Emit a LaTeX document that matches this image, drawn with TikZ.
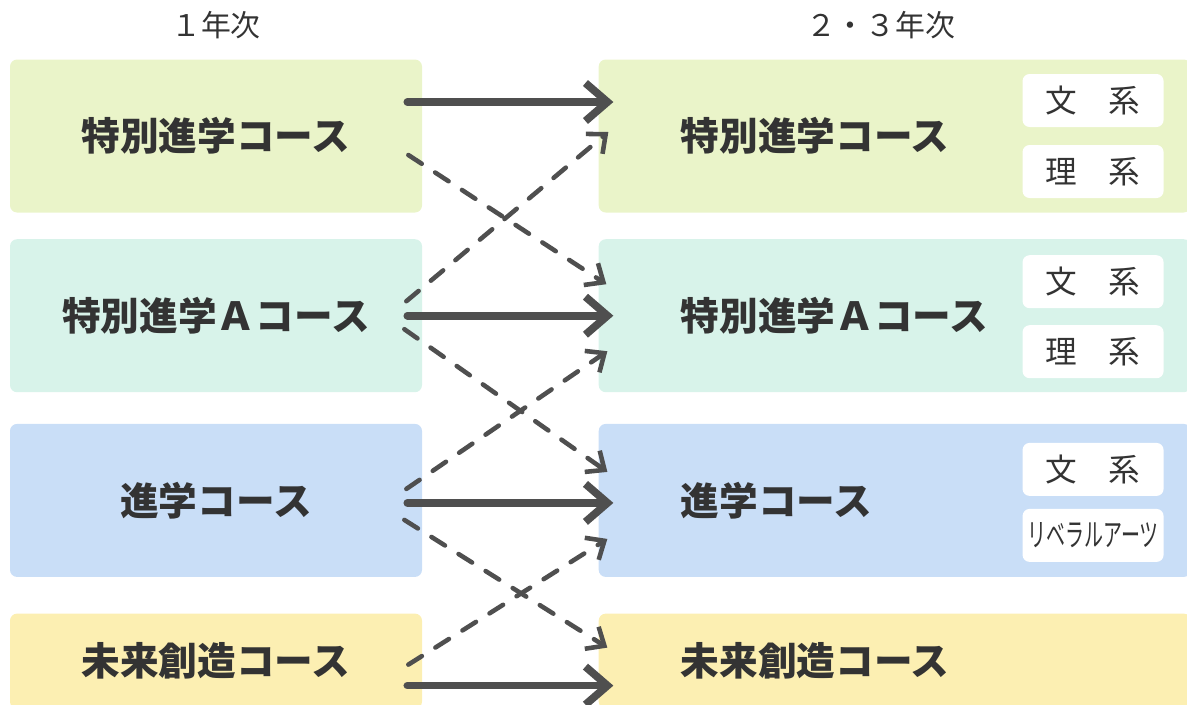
\documentclass[tikz,border=0pt]{standalone}
\usepackage{fontspec}
\setmainfont{Noto Sans CJK JP}
\usetikzlibrary{arrows.meta,positioning}

\definecolor{rowA}{HTML}{EAF4C9}
\definecolor{rowB}{HTML}{D8F3EA}
\definecolor{rowC}{HTML}{C9DEF7}
\definecolor{rowD}{HTML}{FCEFB2}
\definecolor{arr}{HTML}{4F4F4F}
\definecolor{txt}{HTML}{333333}

\begin{document}
\begin{tikzpicture}[
    box/.style={
        rectangle,
        rounded corners=4pt,
        minimum width=8.24cm,
        minimum height=3.06cm,
        inner sep=0pt,
        align=center,
        text=txt,
        font=\bfseries\fontsize{22}{26}\selectfont
    },
    wide/.style={minimum width=11.84cm, text width=8.56cm, inner xsep=1.64cm, align=left},
    tokA/.style={box, fill=rowA},
    tokB/.style={box, fill=rowB},
    tokC/.style={box, fill=rowC},
    tokD/.style={box, fill=rowD, minimum height=1.9cm},
    head/.style={text=txt, font=\fontsize{17}{20}\selectfont},
    sub/.style={
        rectangle, fill=white, rounded corners=4pt,
        minimum width=2.82cm, minimum height=1.06cm,
        inner sep=0pt, text=txt, font=\fontsize{18}{21}\selectfont
    },
    main/.style={-{Straight Barb[length=0.44cm,width=0.76cm]}, draw=arr, line width=4.4pt, line cap=round},
    cross/.style={-{Straight Barb[length=0.3cm,width=0.52cm]}, draw=arr, line width=2.6pt, line cap=round,
        dash pattern=on 0.32cm off 0.32cm}
]
    \clip (0,0) rectangle (23.74,-14.08);

    % --- 1st YEAR (LEFT) ---
    \node[tokA] (l1) at (4.32,-2.72) {特別進学コース};
    \node[tokB, below=0.52cm of l1] (l2) {特別進学Ａコース};
    \node[tokC, below=0.62cm of l2] (l3) {進学コース};
    \node[tokD, below=0.72cm of l3] (l4) {未来創造コース};

    % --- 2nd/3rd YEAR (RIGHT) ---
    \node[tokA, wide, right=3.52cm of l1] (r1) {特別進学コース};
    \node[tokB, wide, right=3.52cm of l2] (r2) {特別進学Ａコース};
    \node[tokC, wide, right=3.52cm of l3] (r3) {進学コース};
    \node[tokD, wide, right=3.52cm of l4] (r4) {未来創造コース};

    % --- HEADINGS ---
    \node[head, above=0.28cm of l1] (h1) {１年次};
    \node[head, above=0.28cm of r1, xshift=-0.28cm] (h2) {２・３年次};

    % --- SUB TRACKS ---
    \node[sub] (r1a) at ([xshift=-1.96cm, yshift=0.71cm]r1.east) {文　系};
    \node[sub] (r1b) at ([xshift=-1.96cm, yshift=-0.71cm]r1.east) {理　系};
    \node[sub] (r2a) at ([xshift=-1.96cm, yshift=0.68cm]r2.east) {文　系};
    \node[sub] (r2b) at ([xshift=-1.96cm, yshift=-0.72cm]r2.east) {理　系};
    \node[sub] (r3a) at ([xshift=-1.96cm, yshift=0.62cm]r3.east) {文　系};
    \node[sub] (r3b) at ([xshift=-1.96cm, yshift=-0.7cm]r3.east) {\scalebox{0.6}[1]{リベラルアーツ}};

    % --- STRAIGHT PATHS ---
    \draw[main] ([xshift=-0.3cm, yshift=0.68cm]l1.east) -- ([xshift=0.3cm, yshift=0.68cm]r1.west);
    \draw[main] ([xshift=-0.3cm]l2.east) -- ([xshift=0.3cm]r2.west);
    \draw[main] ([xshift=-0.3cm, yshift=-0.05cm]l3.east) -- ([xshift=0.3cm, yshift=-0.05cm]r3.west);
    \draw[main] ([xshift=-0.3cm, yshift=-0.49cm]l4.east) -- ([xshift=0.3cm, yshift=-0.49cm]r4.west);

    % --- CHANGES OF COURSE ---
    \draw[cross] ([xshift=-0.28cm, yshift=-0.38cm]l1.east) -- ([xshift=0.16cm, yshift=0.63cm]r2.west);
    \draw[cross] ([xshift=-0.32cm, yshift=0.29cm]l2.east) -- ([xshift=0.2cm, yshift=0.08cm]r1.west);
    \draw[cross] ([xshift=-0.36cm, yshift=-0.27cm]l2.east) -- ([xshift=0.18cm, yshift=0.57cm]r3.west);
    \draw[cross] ([xshift=-0.32cm, yshift=0.23cm]l3.east) -- ([xshift=0.18cm, yshift=-0.71cm]r2.west);
    \draw[cross] ([xshift=-0.36cm, yshift=-0.39cm]l3.east) -- ([xshift=0.18cm, yshift=0.27cm]r4.west);
    \draw[cross] ([xshift=-0.28cm, yshift=-0.07cm]l4.east) -- ([xshift=0.18cm, yshift=-0.77cm]r3.west);

\end{tikzpicture}
\end{document}
